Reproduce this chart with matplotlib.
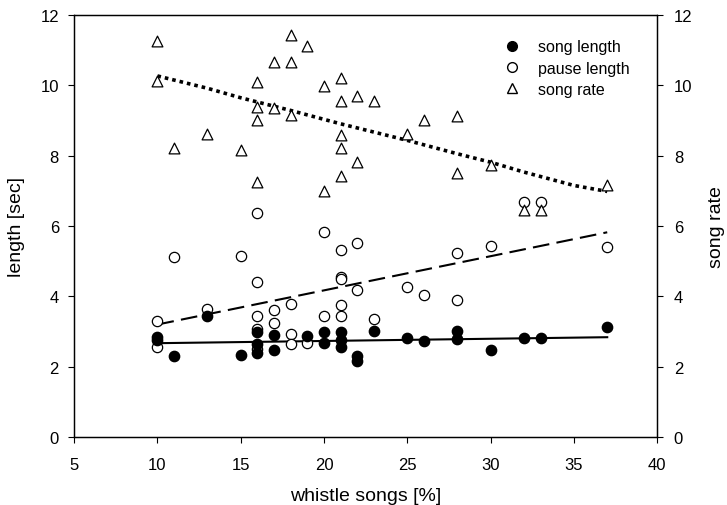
import matplotlib
matplotlib.use("Agg")
import matplotlib.pyplot as plt
from matplotlib.lines import Line2D

plt.rcParams["font.family"] = ["Liberation Sans", "DejaVu Sans"]

# song length (filled circles)
song_x = [10, 10, 11, 13, 15, 16, 16, 16, 17, 17, 19, 20, 20, 21, 21, 21,
          22, 22, 23, 25, 26, 28, 28, 30, 32, 33, 37]
song_y = [2.84, 2.75, 2.32, 3.43, 2.34, 2.98, 2.65, 2.39, 2.89, 2.49, 2.86,
          2.98, 2.68, 2.98, 2.77, 2.57, 2.32, 2.15, 3.03, 2.81, 2.72, 3.03,
          2.79, 2.49, 2.81, 2.81, 3.14]

# pause length (open circles)
pause_x = [10, 10, 11, 13, 15, 16, 16, 16, 16, 16, 17, 17, 18, 18, 18, 19,
           20, 20, 21, 21, 21, 21, 21, 22, 22, 23, 25, 26, 28, 28, 30, 32,
           33, 37]
pause_y = [3.30, 2.56, 5.13, 3.64, 5.14, 6.37, 4.40, 3.45, 3.07, 2.51, 3.62,
           3.24, 3.79, 2.93, 2.65, 2.67, 5.82, 3.43, 5.33, 4.55, 4.48, 3.76,
           3.43, 5.51, 4.17, 3.36, 4.28, 4.04, 5.24, 3.91, 5.43, 6.69, 6.69,
           5.40]

# song rate (open triangles, right axis)
rate_x = [10, 10, 11, 13, 15, 16, 16, 16, 16, 17, 17, 18, 18, 18, 19, 20, 20,
          21, 21, 21, 21, 21, 22, 22, 23, 25, 26, 28, 28, 30, 32, 33, 37]
rate_y = [11.24, 10.13, 8.21, 8.62, 8.15, 10.09, 9.38, 9.02, 7.26, 10.65,
          9.36, 11.43, 10.67, 9.14, 11.10, 9.97, 6.98, 10.20, 9.56, 8.59,
          8.21, 7.41, 9.68, 7.83, 9.56, 8.62, 9.01, 9.12, 7.50, 7.72, 6.46,
          6.46, 7.15]

# fitted lines
fit_x = [10, 37]
song_fit = [2.67, 2.84]
pause_fit = [3.20, 5.82]
rate_fit_x = [10, 13, 15, 18, 21, 25, 28, 30, 32, 35, 37]
rate_fit_y = [10.26, 9.91, 9.64, 9.28, 8.90, 8.43, 8.05, 7.81, 7.53, 7.15, 6.98]

fig = plt.figure(figsize=(7.27, 5.06), dpi=100)
ax = fig.add_axes([0.102, 0.134, 0.802, 0.835])
ax2 = ax.twinx()

ax.plot(fit_x, song_fit, color="black", lw=1.5, zorder=2)
ax.plot(fit_x, pause_fit, color="black", lw=1.5, linestyle=(0, (8, 3.5)), zorder=2)
ax.scatter(pause_x, pause_y, s=55, facecolors="white", edgecolors="black",
           linewidths=0.9, zorder=3)
ax.scatter(song_x, song_y, s=55, color="black", zorder=4)

ax2.plot(rate_fit_x, rate_fit_y, color="black", lw=2.6, linestyle=(0, (1, 1.1)), zorder=2)
ax2.scatter(rate_x, rate_y, s=60, marker="^", facecolors="white",
            edgecolors="black", linewidths=0.9, zorder=3)

for a in (ax, ax2):
    a.set_ylim(0, 12)
    a.set_yticks(range(0, 13, 2))
    a.tick_params(direction="out", length=4, width=0.8, labelsize=12, pad=7)
    for s in a.spines.values():
        s.set_linewidth(0.9)
ax.set_xlim(5, 40)
ax.set_xticks(range(5, 41, 5))
ax.tick_params(axis="x", pad=10)
ax2.tick_params(axis="y", pad=8)

ax.set_xlabel("whistle songs [%]", fontsize=14, labelpad=11)
ax.set_ylabel("length [sec]", fontsize=14, labelpad=11)
ax2.set_ylabel("song rate", fontsize=14, labelpad=11)

handles = [
    Line2D([], [], marker="o", ls="none", color="black", markersize=7),
    Line2D([], [], marker="o", ls="none", markerfacecolor="white",
           markeredgecolor="black", markersize=7),
    Line2D([], [], marker="^", ls="none", markerfacecolor="white",
           markeredgecolor="black", markersize=7),
]
ax2.legend(handles, ["song length", "pause length", "song rate"], loc="upper left",
           bbox_to_anchor=(0.7376, 0.942), frameon=False, fontsize=11.5,
           handlelength=1.0, handletextpad=1.1, labelspacing=0.4,
           borderpad=0, borderaxespad=0)

fig.savefig("out.png", dpi=100, facecolor="white")
